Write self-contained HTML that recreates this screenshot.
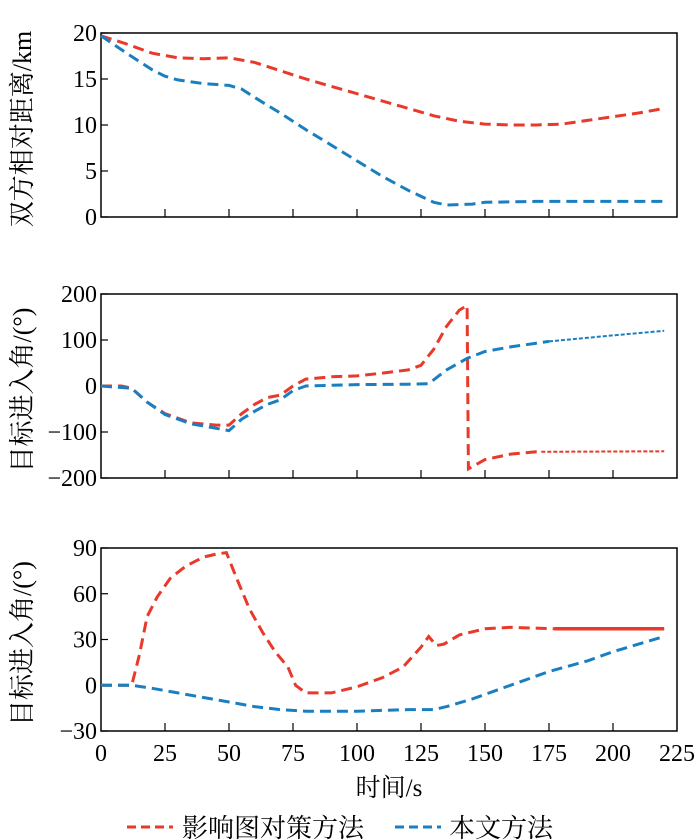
<!DOCTYPE html>
<html><head><meta charset="utf-8">
<style>
body{margin:0;background:#fff;}
svg{display:block;font-family:"Liberation Serif","Noto Serif CJK SC",serif;}
.cj{font-family:"Liberation Serif","Noto Serif CJK SC","Noto Sans CJK SC",serif;}
</style></head>
<body>
<svg id="chart" width="700" height="840" viewBox="0 0 700 840"></svg>
<script>
const xTicks=[0,25,50,75,100,125,150,175,200,225];
const distTicks=[0,5,10,15,20];
const angTicks=[-200,-100,0,100,200];
const ang2Ticks=[-30,0,30,60,90];
const distRedT=[0,10,20,30,40,50,60,70,80,90,100,110,120,130,140,150,160,170,180,190,200,210,220];
const distRedV=[19.7,18.8,17.8,17.3,17.2,17.3,16.8,15.9,15,14.2,13.4,12.6,11.8,11,10.4,10.1,10,10,10.1,10.5,10.9,11.3,11.8];
const distBlueT=[0,10,20,25,30,40,50,55,60,70,80,90,100,110,120,130,135,145,150,170,220];
const distBlueV=[19.7,17.8,16,15.3,14.9,14.5,14.3,13.9,13,11.3,9.5,7.8,6.1,4.4,2.9,1.6,1.3,1.4,1.6,1.7,1.7];
const angRedT=[0,8,12,18,25,35,45,50,55,60,65,70,75,80,90,100,110,120,125,130,135,140,143,143.5,150,160,170,220];
const angRedV=[0,0,-5,-35,-60,-80,-85,-85,-60,-40,-25,-20,0,15,20,22,28,35,45,80,130,165,175,-180,-160,-148,-143,-142];
const angBlueT=[0,12,18,25,35,45,50,55,60,65,70,75,80,100,120,128,135,143,150,160,175,200,220];
const angBlueV=[0,-5,-35,-62,-82,-92,-97,-72,-55,-40,-30,-10,0,3,4,5,35,60,75,85,97,110,120];
const a2RedT=[0,12,15,18,22,27,33,40,45,49,53,58,63,68,73,76,80,90,100,110,118,125,128,131,134,140,150,160,177,220];
const a2RedV=[0,0,20,45,58,70,78,84,86,87,70,50,35,22,12,0,-5,-5,-1,5,12,25,32,26,27,33,37,38,37,37];
const a2BlueT=[0,12,20,30,40,50,60,70,80,100,120,130,135,145,155,165,175,190,200,210,220];
const a2BlueV=[0,0,-2,-5,-8,-11,-14,-16,-17,-17,-16,-16,-14,-9,-3,3,9,16,22,27,32];

const NS="http://www.w3.org/2000/svg";
const svg=document.getElementById('chart');
const X0=101,X1=677;
const sx=t=>X0+(t-0)/225*(X1-X0);
const RED="#e8392a",BLUE="#1a7fc1";
function el(tag,attrs,parent){const e=document.createElementNS(NS,tag);for(const k in attrs)e.setAttribute(k,attrs[k]);(parent||svg).appendChild(e);return e;}

function panel(name,top,bot,ymin,ymax,ticks,showX,label){
  const g=el('g',{});
  
  
  const sy=v=>bot-(v-ymin)/(ymax-ymin)*(bot-top);
  const frame=el('rect',{x:X0,y:top,width:X1-X0,height:bot-top,fill:'none',stroke:'#000','stroke-width':1.5},g);
  
  
  ticks.forEach(v=>{
    const y=sy(v);
    const tk=el('line',{x1:X0,x2:X0+7,y1:y,y2:y,stroke:'#000','stroke-width':1.2},g);
    
    
    const tx=el('text',{x:X0-4,y:y+8,'text-anchor':'end','font-size':24},g);
    tx.textContent=(v<0?'\u2212'+(-v):v);
    
    
  });
  xTicks.forEach(v=>{
    const x=sx(v);
    if(v>0&&v<225){
      const tk=el('line',{x1:x,x2:x,y1:bot,y2:bot-8,stroke:'#000','stroke-width':1.2},g);
      
      
    }
    if(showX){
      const tx=el('text',{x:x,y:bot+30,'text-anchor':'middle','font-size':24},g);
      tx.textContent=v;
      
      
    }
  });
  const yl=el('text',{x:0,y:0,'text-anchor':'middle','font-size':26,class:'cj',transform:`translate(31,${(top+bot)/2+4}) rotate(-90)`},g);
  yl.textContent=label;
  
  
  return {g,sy};
}
function interp(T,V,t){for(let i=1;i<T.length;i++){if(T[i]>=t){const f=(t-T[i-1])/(T[i]-T[i-1]);return V[i-1]+f*(V[i]-V[i-1]);}}return V[V.length-1];}
function series(p,name,T,V,color,brk,lateStyle){
  const mk=(pts,style)=>{
    if(pts.length<2)return;
    const d=pts.map((q,i)=>(i?'L':'M')+sx(q[0]).toFixed(1)+','+p.sy(q[1]).toFixed(1)).join(' ');
    const path=el('path',{d,fill:'none',stroke:color,'stroke-width':style.w,'stroke-dasharray':style.dash||'none'},p.g);
    
    
  };
  const main={w:3,dash:'11 6'};
  const a=[],b=[];
  T.forEach((t,i)=>{ if(brk==null||t<brk)a.push([t,V[i]]); if(brk!=null&&t>brk)b.push([t,V[i]]); });
  if(brk!=null){const bv=interp(T,V,brk);a.push([brk,bv]);b.unshift([brk,bv]);}
  mk(a,main);
  if(brk!=null)mk(b,lateStyle);
}
const thin={w:2,dash:'4 2'};
const p1=panel('distance-panel',33,217,0,20,distTicks,false,'双方相对距离/km');
series(p1,'distance-influence-diagram-line',distRedT,distRedV,RED);
series(p1,'distance-proposed-line',distBlueT,distBlueV,BLUE);
const p2=panel('entry-angle-panel',294,478,-200,200,angTicks,false,'目标进入角/(°)');
series(p2,'angle-influence-diagram-line',angRedT,angRedV,RED,172,thin);
series(p2,'angle-proposed-line',angBlueT,angBlueV,BLUE,175,thin);
const p3=panel('entry-angle-panel-2',548,731,-30,90,ang2Ticks,true,'目标进入角/(°)');
series(p3,'angle2-influence-diagram-line',a2RedT,a2RedV,RED,177,{w:3.5});
series(p3,'angle2-proposed-line',a2BlueT,a2BlueV,BLUE);

const xt=el('text',{x:389,y:796,'text-anchor':'middle','font-size':25,class:'cj'});
xt.textContent='时间/s';



const lg=el('g',{});


const l1=el('line',{x1:127,x2:173,y1:827,y2:827,stroke:RED,'stroke-width':3,'stroke-dasharray':'9 5'},lg);


const t1=el('text',{x:182,y:837,'font-size':26,class:'cj'},lg);
t1.textContent='影响图对策方法';


const l2=el('line',{x1:395,x2:441,y1:827,y2:827,stroke:BLUE,'stroke-width':3,'stroke-dasharray':'9 5'},lg);


const t2=el('text',{x:449,y:837,'font-size':26,class:'cj'},lg);
t2.textContent='本文方法';


</script>
</body></html>
